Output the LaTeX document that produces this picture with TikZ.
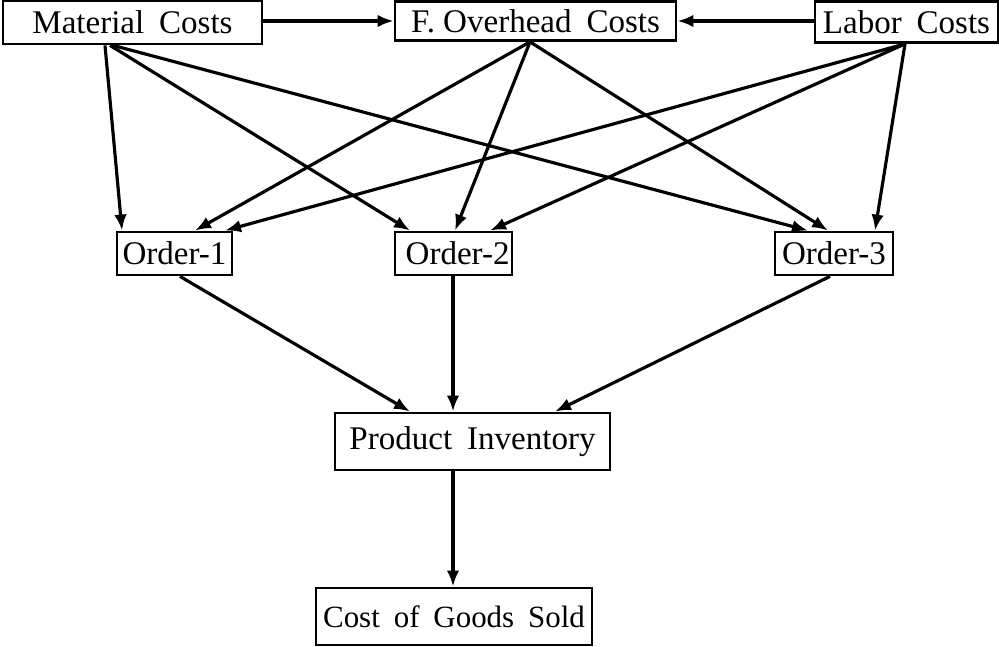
\documentclass[tikz,border=0pt]{standalone}
\usepackage{fontspec}
\setmainfont{Liberation Serif}
\usetikzlibrary{arrows.meta,calc}
\newcommand{\gap}{\hspace{0.45em}}
\begin{document}
\begin{tikzpicture}[x=0.1mm,y=-0.1mm,
  box/.style={draw,line width=0.8pt,inner sep=0pt,
    font=\fontsize{9.4}{11}\selectfont},
  flow/.style={line width=0.9pt,-{Latex[length=1.6mm,width=1.25mm]}}]
\useasboundingbox (0,0) rectangle (999,647);

% cost sources
\node[box,minimum width=25.9mm,minimum height=4.3mm] (mat) at (132.5,22.5) {Material\gap Costs};
\node[box,minimum width=28.1mm,minimum height=3.9mm] (foh) at (535.5,21) {F. Overhead\gap Costs};
\node[box,minimum width=18.3mm,minimum height=4.1mm] (lab) at (906.5,22) {Labor\gap Costs};

% orders
\node[box,minimum width=11.5mm,minimum height=4.3mm] (o1) at (174.5,253.5) {Order-1};
\node[box,minimum width=11.7mm,minimum height=4.3mm] (o2) at (453.5,253.5) {\ Order-2};
\node[box,minimum width=11.8mm,minimum height=4.3mm] (o3) at (834,253.5) {Order-3};

% inventory and sales
\node[box,minimum width=27.5mm,minimum height=5.7mm] (pi) at (472.5,441.5) {Product\gap Inventory};
\node[box,minimum width=27.6mm,minimum height=5.7mm,
  font=\fontsize{8.8}{11}\selectfont] (cgs) at (454,616.5) {Cost\gap of\gap Goods\gap Sold};

% overhead allocation
\draw[flow] ($(mat.east)+(0,-1.5)$) -- (foh.west);
\draw[flow] ($(lab.west)+(0,-1)$) -- (foh.east);

% material costs to orders
\draw[flow] ($(mat.south)+(-27.5,0)$) -- ($(o1.north)+(-52.5,0)$);
\draw[flow] ($(mat.south)+(-22.5,0)$) -- ($(o2.north)+(-43.5,0)$);
\draw[flow] ($(mat.south)+(-19.5,0)$) -- ($(o3.north)+(-26,0)$);

% overhead costs to orders
\draw[flow] ($(foh.south)+(-5.5,0)$) -- ($(o1.north)+(20.5,0)$);
\draw[flow] ($(foh.south)+(-5.5,0)$) -- ($(o2.north)+(1.5,0)$);
\draw[flow] ($(foh.south)+(-5.5,0)$) -- ($(o3.north)+(-6,0)$);

% labor costs to orders
\draw[flow] ($(lab.south)+(-1.5,0)$) -- ($(o1.north)+(50.5,0)$);
\draw[flow] ($(lab.south)+(-1.5,0)$) -- ($(o2.north)+(36.5,0)$);
\draw[flow] ($(lab.south)+(-1.5,0)$) -- ($(o3.north)+(41,0)$);

% orders to inventory
\draw[flow] ($(o1.south)+(5.5,0)$) -- ($(pi.north)+(-62.5,0)$);
\draw[flow] ($(o2.south)+(-0.5,0)$) -- ($(pi.north)+(-19.5,0)$);
\draw[flow] ($(o3.south)+(-4,0)$) -- ($(pi.north)+(82.5,0)$);

% inventory to cost of goods sold
\draw[flow] ($(pi.south)+(-19.5,0)$) -- ($(cgs.north)+(-1,0)$);
\end{tikzpicture}
\end{document}
